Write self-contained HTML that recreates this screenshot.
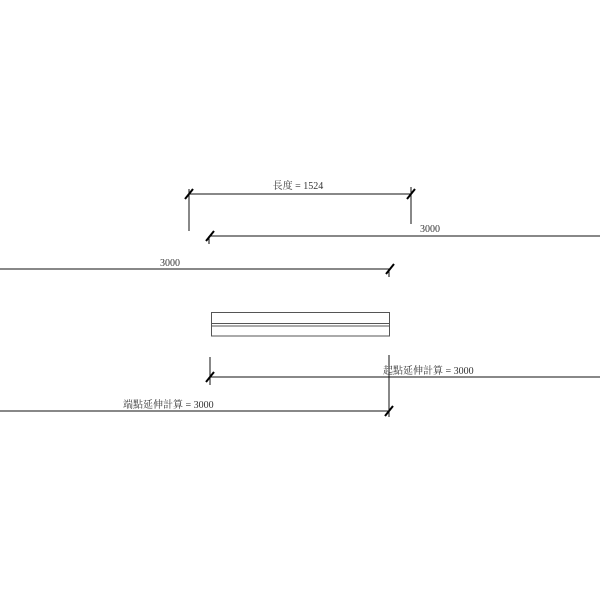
<!DOCTYPE html>
<html><head><meta charset="utf-8"><style>
html,body{margin:0;padding:0;background:#fff;}
svg{display:block}
text{font-family:"Liberation Serif","Noto Serif CJK SC","Noto Sans CJK TC",serif;font-size:10px;fill:#333}
</style></head><body>
<svg width="600" height="600" viewBox="0 0 600 600" xmlns="http://www.w3.org/2000/svg">
<g stroke="#111" stroke-width="1" fill="none">
<!-- top dimension -->
<line x1="189" y1="194" x2="411" y2="194"/>
<line x1="189" y1="189" x2="189" y2="231"/>
<line x1="411" y1="187" x2="411" y2="224"/>
<!-- line2 -->
<line x1="210" y1="236" x2="600" y2="236"/>
<!-- line3 -->
<line x1="0" y1="269" x2="390" y2="269"/>
<!-- rect -->
<rect x="211.5" y="312.5" width="178" height="23.5" stroke="#555"/>
<line x1="211.5" y1="323.5" x2="389.5" y2="323.5" stroke="#555"/>
<line x1="211.5" y1="326" x2="389.5" y2="326" stroke="#555"/>
<!-- line4 -->
<line x1="210" y1="377" x2="600" y2="377"/>
<line x1="210" y1="357" x2="210" y2="385"/>
<!-- line5 -->
<line x1="0" y1="411" x2="389" y2="411"/>
<line x1="389" y1="355" x2="389" y2="417"/>
</g>
<g stroke="#000" stroke-width="2">
<line x1="185" y1="199" x2="193" y2="189"/>
<line x1="407" y1="199" x2="415" y2="189"/>
<line x1="206" y1="241" x2="214" y2="231"/>
<line x1="386" y1="274" x2="394" y2="264"/>
<line x1="206" y1="382" x2="214" y2="372"/>
<line x1="385" y1="416" x2="393" y2="406"/>
</g>
<g stroke="#000" stroke-width="1">
<line x1="209" y1="236" x2="209" y2="244"/>
<line x1="389" y1="269" x2="389" y2="277"/>
</g>
<text x="298" y="189" text-anchor="middle">長度 = 1524</text>
<text x="420" y="232">3000</text>
<text x="160" y="266">3000</text>
<text x="383" y="374">起點延伸計算 = 3000</text>
<text x="123" y="408">端點延伸計算 = 3000</text>
</svg>
</body></html>
